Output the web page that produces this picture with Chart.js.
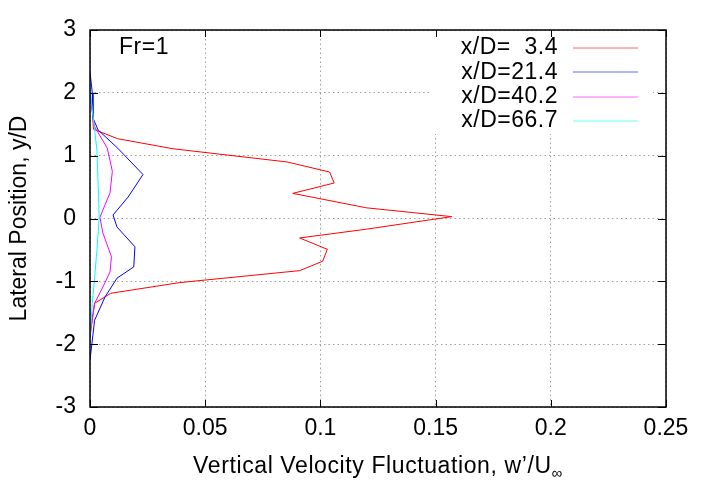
<!DOCTYPE html>
<html>
<head>
<meta charset="utf-8">
<script src="https://cdn.jsdelivr.net/npm/chart.js@4/dist/chart.umd.min.js"></script>
<style>
  body { margin: 0; background: #fff; }
</style>
</head>
<body>
<canvas id="profiles" width="720" height="504"></canvas>
<script>
// lateral positions (y/D) and w'/U values
const y_3_4 = [2.0, 1.7, 1.42, 1.27, 1.11, 0.90, 0.74, 0.565, 0.40, 0.17, 0.03, -0.17, -0.31, -0.49, -0.68, -0.83, -1.02, -1.19, -1.35, -1.6, -1.9];
const w_3_4 = [0.0, 0.001, 0.0015, 0.012, 0.036, 0.0855, 0.104, 0.106, 0.088, 0.12, 0.157, 0.12, 0.091, 0.103, 0.101, 0.091, 0.039, 0.009, 0.002, 0.001, 0.0];

const y_21_4 = [2.33, 2.0, 1.6, 1.41, 1.12, 0.70, 0.34, 0.056, -0.135, -0.45, -0.77, -0.95, -1.25, -1.62, -2.25];
const w_21_4 = [0.0, 0.001, 0.0013, 0.0035, 0.012, 0.023, 0.0165, 0.010, 0.0117, 0.0195, 0.019, 0.0117, 0.0065, 0.002, 0.0];

const y_40_2 = [2.0, 1.84, 1.46, 1.12, 0.75, 0.41, 0.02, -0.23, -0.61, -0.85, -1.09, -1.35, -1.73];
const w_40_2 = [0.0, 0.0005, 0.002, 0.0075, 0.0097, 0.0087, 0.0043, 0.0056, 0.0093, 0.0087, 0.0056, 0.002, 0.0005];

const y_66_7 = [2.1, 1.73, 1.09, 0.57, 0.02, -0.5, -0.95, -1.35, -1.9];
const w_66_7 = [0.0, 0.001, 0.003, 0.0035, 0.004, 0.003, 0.002, 0.001, 0.0];

const seriesLabels = ['x/D=  3.4', 'x/D=21.4', 'x/D=40.2', 'x/D=66.7'];
const seriesColors = ['#ff0000', '#0000ff', '#ff00ff', '#00ffff'];
const xTicks = [0, 0.05, 0.1, 0.15, 0.2, 0.25];
const yTicks = [-3, -2, -1, 0, 1, 2, 3];

const FONT = '"Liberation Sans", Arial, sans-serif';

function toPoints(ws, ys) {
    return ws.map((w, i) => ({ x: w, y: ys[i] }));
}

const allSeries = [
    toPoints(w_3_4, y_3_4),
    toPoints(w_21_4, y_21_4),
    toPoints(w_40_2, y_40_2),
    toPoints(w_66_7, y_66_7),
];

// gnuplot-like decorations: frame, inward ticks, key, titles
const gnuplotLook = {
    id: 'gnuplotLook',
    beforeDatasetsDraw(chart) {
        const ctx = chart.ctx;
        // opaque key area
        ctx.save();
        ctx.fillStyle = '#fff';
        ctx.fillRect(430, chart.chartArea.top + 1, 223, 103);
        ctx.restore();
    },
    afterDraw(chart) {
        const ctx = chart.ctx;
        const a = chart.chartArea;
        const xs = chart.scales.x, ys = chart.scales.y;
        ctx.save();
        ctx.strokeStyle = '#000';
        ctx.lineWidth = 1.5;
        ctx.strokeRect(a.left, a.top, a.right - a.left, a.bottom - a.top);

        ctx.lineWidth = 1;
        ctx.beginPath();
        xTicks.forEach(v => {
            const px = Math.round(xs.getPixelForValue(v)) + 0.5;
            ctx.moveTo(px, a.bottom); ctx.lineTo(px, a.bottom - 7);
            ctx.moveTo(px, a.top); ctx.lineTo(px, a.top + 7);
        });
        yTicks.forEach(v => {
            const py = Math.round(ys.getPixelForValue(v)) + 0.5;
            ctx.moveTo(a.left, py); ctx.lineTo(a.left + 8, py);
            ctx.moveTo(a.right, py); ctx.lineTo(a.right - 8, py);
        });
        ctx.stroke();

        // key
        ctx.font = '23px ' + FONT;
        ctx.letterSpacing = '0.5px';
        ctx.fillStyle = '#000';
        ctx.textBaseline = 'middle';
        seriesLabels.forEach((lab, i) => {
            const yy = 48 + i * 24.3;
            ctx.textAlign = 'right';
            ctx.fillText(lab, 558, yy);
            ctx.strokeStyle = seriesColors[i];
            ctx.globalAlpha = 0.6;
            ctx.beginPath();
            ctx.moveTo(573, Math.round(yy));
            ctx.lineTo(638, Math.round(yy));
            ctx.stroke();
            ctx.globalAlpha = 1;
        });

        // annotation
        ctx.textAlign = 'left';
        ctx.fillText('Fr=1', 119, 48);

        // x axis title with subscript
        const main = 'Vertical Velocity Fluctuation, w\u2019/U';
        ctx.font = '23px ' + FONT;
        ctx.letterSpacing = '0.6px';
        const wMain = ctx.measureText(main).width;
        ctx.font = '15px ' + FONT;
        const wSub = ctx.measureText('\u221e').width;
        const x0 = (a.left + a.right) / 2 - (wMain + wSub) / 2;
        ctx.font = '23px ' + FONT;
        ctx.textAlign = 'left';
        ctx.textBaseline = 'alphabetic';
        ctx.fillText(main, x0, 473);
        ctx.font = '15px ' + FONT;
        ctx.fillText('\u221e', x0 + wMain, 478);

        // y axis title
        ctx.letterSpacing = '0px';
        ctx.font = '23px ' + FONT;
        ctx.textAlign = 'center';
        ctx.textBaseline = 'middle';
        ctx.translate(20, (a.top + a.bottom) / 2);
        ctx.rotate(-Math.PI / 2);
        ctx.fillText('Lateral Position, y/D', 0, 0);
        ctx.restore();
    }
};

const chart = new Chart(document.getElementById('profiles'), {
    type: 'scatter',
    data: {
        datasets: allSeries.map((pts, i) => ({
            label: seriesLabels[i],
            data: pts,
            showLine: true,
            borderColor: seriesColors[i],
            borderWidth: 1,
            pointRadius: 0,
            tension: 0,
            order: 4 - i,
        }))
    },
    options: {
        responsive: false,
        animation: false,
        devicePixelRatio: 1,
        layout: { padding: { top: 30, right: 54, left: 0, bottom: 0 } },
        plugins: { legend: { display: false }, tooltip: { enabled: false } },
        scales: {
            x: {
                type: 'linear',
                min: 0, max: 0.25,
                afterFit: s => { s.height = 97; },
                afterBuildTicks: s => { s.ticks = xTicks.map(v => ({ value: v })); },
                ticks: {
                    padding: 8,
                    color: '#000',
                    font: { family: FONT, size: 23 },
                    callback: v => String(+v.toFixed(2)),
                    maxRotation: 0,
                },
                grid: { color: '#a0a0a0', lineWidth: 1, drawTicks: false },
                border: { display: false, dash: [1.5, 3] },
            },
            y: {
                type: 'linear',
                min: -3, max: 3,
                afterFit: s => { s.width = 90; },
                afterBuildTicks: s => { s.ticks = yTicks.map(v => ({ value: v })); },
                ticks: {
                    padding: 14,
                    color: '#000',
                    font: { family: FONT, size: 23 },
                },
                grid: { color: '#a0a0a0', lineWidth: 1, drawTicks: false },
                border: { display: false, dash: [1.5, 3] },
            }
        }
    },
    plugins: [gnuplotLook]
});
</script>
</body>
</html>
